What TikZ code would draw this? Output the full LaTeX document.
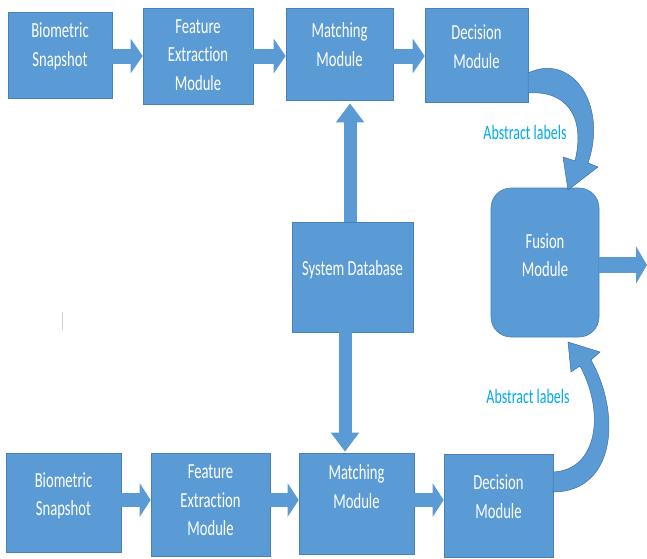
\documentclass[tikz,border=0pt]{standalone}
\usepackage{fontspec}
\setmainfont{Carlito}[FakeStretch=0.68,Ligatures={NoCommon,NoRare}]
\usetikzlibrary{arrows.meta}
\definecolor{boxblue}{RGB}{91,155,213}
\definecolor{boxedge}{RGB}{72,128,186}
\definecolor{curvedge}{RGB}{60,110,165}
\definecolor{lblcyan}{RGB}{0,170,235}
\tikzset{
  box/.style={draw=boxedge, fill=boxblue, line width=0.6pt, inner sep=0pt},
  txt/.style={text=white, align=center, inner sep=0pt, font=\fontsize{21.5}{28.5}\selectfont},
  lbl/.style={text=lblcyan, inner sep=0pt, font=\fontsize{20.5}{24}\selectfont},
  barrow/.style={draw=boxblue, line width=15pt, -{Triangle[length=12pt,width=34pt]}},
  barrowb/.style={draw=boxblue, line width=14pt, -{Triangle[length=11pt,width=33pt]}},
  varrow/.style={draw=boxblue, line width=13pt, -{Triangle[length=19pt,width=27pt]}},
  carrow/.style={fill=boxblue, draw=curvedge, line width=0.5pt},
}
\begin{document}
\begin{tikzpicture}[x=1pt,y=-1pt]
\useasboundingbox (0,0) rectangle (647,558);
% top row
\node[box, minimum width=104, minimum height=86] (b1) at (60,55) {};
\node[box, minimum width=110, minimum height=96] (f1) at (198,56) {};
\node[box, minimum width=107, minimum height=92] (m1) at (339.5,54) {};
\node[box, minimum width=103, minimum height=94] (d1) at (476.5,55) {};
\node[txt] (tb1) at (60,46.5) {Biometric\\Snapshot};
\node[txt] (tf1) at (198,55) {Feature\\Extraction\\Module};
\node[txt] (tm1) at (339.5,44.5) {Matching\\Module};
\node[txt] (td1) at (476.5,46.5) {Decision\\Module};
% database
\node[box, minimum width=121, minimum height=110] (db) at (352.5,277) {};
\node[txt] (tdb) at (352.5,270) {System Database};
% fusion
\node[box, rounded corners=20pt, minimum width=108, minimum height=149] (fu) at (545,262.5) {};
\node[txt] (tfu) at (545,255) {Fusion\\Module};
% bottom row
\node[box, minimum width=115, minimum height=99] (b2) at (63.5,502.5) {};
\node[box, minimum width=119, minimum height=103] (f2) at (210.5,504.5) {};
\node[box, minimum width=115, minimum height=101] (m2) at (356.5,503.5) {};
\node[box, minimum width=109, minimum height=103] (d2) at (498.5,505.5) {};
\node[txt] (tb2) at (63.5,496) {Biometric\\Snapshot};
\node[txt] (tf2) at (210.5,500.5) {Feature\\Extraction\\Module};
\node[txt] (tm2) at (356.5,486.5) {Matching\\Module};
\node[txt] (td2) at (498.5,496.5) {Decision\\Module};
% helper coordinates
\coordinate (yt) at (0,56);
\coordinate (yb) at (0,500);
\coordinate (ux) at (350,0);
\coordinate (dx) at (345,0);
\coordinate (yo) at (0,265);
\coordinate (out) at (647,265);
% top row arrows
\draw[barrow] (b1.east |- yt) -- (f1.west |- yt);
\draw[barrow] (f1.east |- yt) -- (m1.west |- yt);
\draw[barrow] (m1.east |- yt) -- (d1.west |- yt);
% bottom row arrows
\draw[barrowb] (b2.east |- yb) -- (f2.west |- yb);
\draw[barrowb] (f2.east |- yb) -- (m2.west |- yb);
\draw[barrowb] (m2.east |- yb) -- (d2.west |- yb);
% vertical arrows
\draw[varrow, shorten >=3pt] (db.north -| ux) -- (m1.south -| ux);
\draw[varrow, shorten >=1pt] (db.south -| dx) -- (m2.north -| dx);
% exit arrow
\draw[draw=boxblue, line width=16pt, -{Triangle[length=11pt,width=37pt]}] (fu.east |- yo) -- (out);
% curved arrows
\path[carrow] (528,73) .. controls (572,52) and (608,105) .. (588,163)
  -- (598,167) -- (568,190) -- (563,157) -- (575,161)
  .. controls (586,115) and (565,90) .. (528,93) -- cycle;
\path[carrow] (553,492) .. controls (615,492) and (622,415) .. (591,360)
  -- (600,352) -- (568,342) -- (571,372) -- (580,366)
  .. controls (605,412) and (598,470) .. (553,472) -- cycle;
\node[lbl] (l1) at (525,132) {Abstract labels};
\node[lbl] (l2) at (528,396) {Abstract labels};
% small stray mark
\draw[gray!35, line width=0.8pt] (62,312) -- (62,330);
\end{tikzpicture}
\end{document}
